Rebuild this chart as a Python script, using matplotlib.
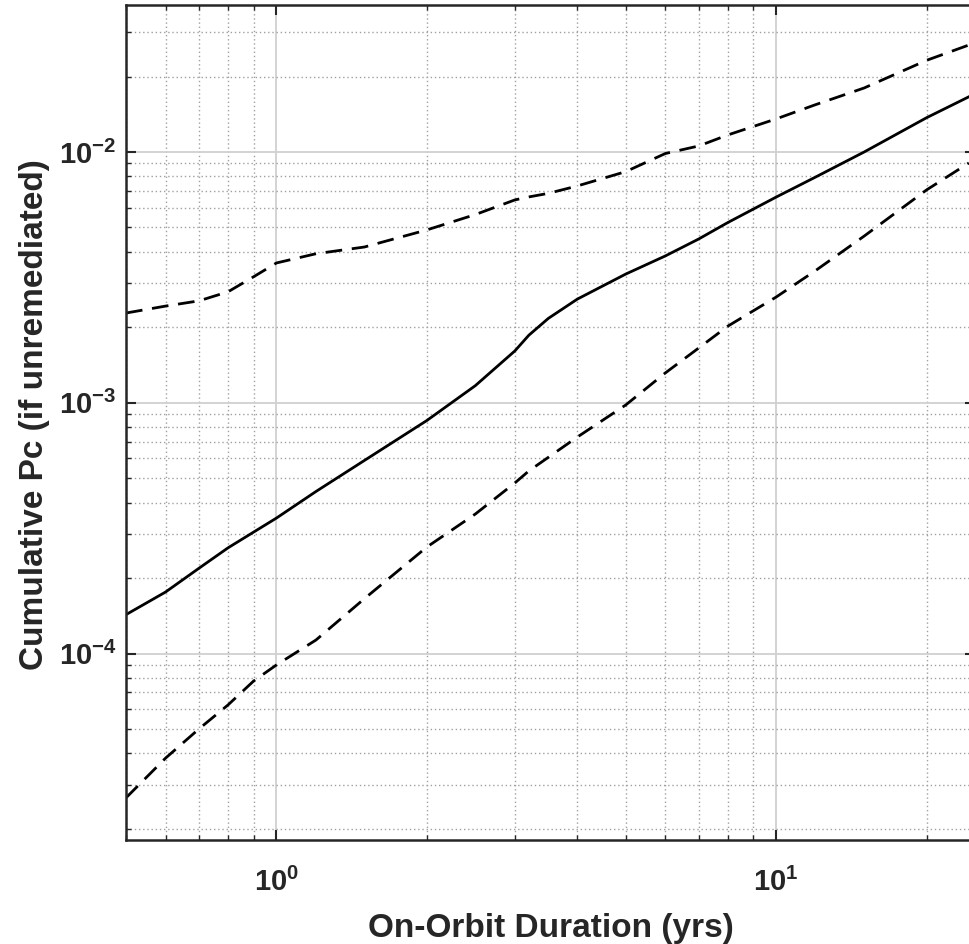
import matplotlib
matplotlib.use('Agg')
import matplotlib.pyplot as plt
from matplotlib.ticker import LogLocator

plt.rcParams['font.family'] = ['Liberation Sans', 'DejaVu Sans']
plt.rcParams['font.weight'] = 'bold'
plt.rcParams['axes.unicode_minus'] = False

# on-orbit duration (yrs)
years = [0.5, 0.6, 0.7, 0.8, 0.9, 1.0, 1.2, 1.5, 2.0, 2.5, 3.0, 3.2, 3.5,
         4.0, 5.0, 6.0, 7.0, 8.0, 10.0, 12.0, 15.0, 20.0, 24.3]

# cumulative Pc, median
pc_mid = [1.43e-4, 1.76e-4, 2.19e-4, 2.64e-4, 3.05e-4, 3.47e-4, 4.43e-4,
          5.89e-4, 8.50e-4, 1.17e-3, 1.61e-3, 1.86e-3, 2.17e-3, 2.59e-3,
          3.26e-3, 3.85e-3, 4.50e-3, 5.23e-3, 6.61e-3, 7.95e-3, 1.0e-2,
          1.37e-2, 1.66e-2]

# upper bound
pc_hi = [2.28e-3, 2.43e-3, 2.55e-3, 2.77e-3, 3.18e-3, 3.61e-3, 3.93e-3,
         4.18e-3, 4.89e-3, 5.63e-3, 6.44e-3, 6.62e-3, 6.84e-3, 7.32e-3,
         8.35e-3, 9.86e-3, 1.057e-2, 1.169e-2, 1.355e-2, 1.545e-2, 1.80e-2,
         2.32e-2, 2.67e-2]

# lower bound
pc_lo = [2.66e-5, 3.83e-5, 5.01e-5, 6.24e-5, 7.77e-5, 9.01e-5, 1.133e-4,
         1.656e-4, 2.66e-4, 3.60e-4, 4.79e-4, 5.35e-4, 6.06e-4, 7.30e-4,
         9.80e-4, 1.315e-3, 1.654e-3, 2.02e-3, 2.64e-3, 3.37e-3, 4.62e-3,
         7.06e-3, 9.04e-3]

fig = plt.figure(figsize=(9.69, 9.44), dpi=100)
ax = fig.add_axes([126 / 969, 104 / 944, 849 / 969, 835 / 944])

ax.plot(years, pc_mid, color='black', lw=2.0)
ax.plot(years, pc_hi, color='black', lw=2.0, dashes=(6, 3.5))
ax.plot(years, pc_lo, color='black', lw=2.0, dashes=(6, 3.5))

ax.set_xscale('log')
ax.set_yscale('log')
ax.set_xlim(0.5, 25)
ax.set_ylim(1.806e-5, 0.03856)

ax.xaxis.set_minor_locator(LogLocator(base=10, subs=range(2, 10), numticks=20))
ax.yaxis.set_minor_locator(LogLocator(base=10, subs=range(2, 10), numticks=20))

ax.grid(which='major', color='#d0d0d0', lw=1.3, ls='-')
ax.grid(which='minor', color='#a0a0a0', lw=1.0, ls=(0, (1, 2)))
ax.set_axisbelow(True)

for s in ax.spines.values():
    s.set_color('#262626')
    s.set_linewidth(1.8)

ax.tick_params(which='both', direction='in', top=True, right=True,
               color='#262626', labelsize=21, labelcolor='#262626')
ax.tick_params(which='major', length=7, width=1.5)
ax.tick_params(which='minor', length=3.5, width=1.0)
ax.tick_params(axis='x', which='major', pad=20)
ax.tick_params(axis='y', which='major', pad=7)
for lbl in ax.get_xticklabels() + ax.get_yticklabels():
    lbl.set_fontweight('bold')

ax.set_xlabel('On-Orbit Duration (yrs)', fontsize=24, fontweight='bold', color='#262626')
ax.set_ylabel('Cumulative Pc (if unremediated)', fontsize=24, fontweight='bold', color='#262626')
ax.xaxis.set_label_coords(0.5, -0.087)
ax.yaxis.set_label_coords(-0.090, 0.509)

fig.savefig('out.png', dpi=100)
